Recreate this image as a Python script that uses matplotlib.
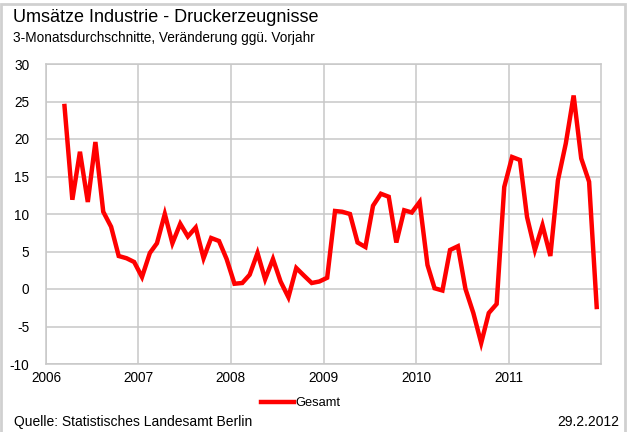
import matplotlib
matplotlib.use("Agg")
import matplotlib.pyplot as plt
import matplotlib.dates as mdates
import pandas as pd
from matplotlib.patches import Rectangle

plt.rcParams['font.family'] = ['Liberation Sans', 'DejaVu Sans']
plt.rcParams['axes.unicode_minus'] = False

# monthly values, March 2006 - December 2011
values = [24.4, 11.9, 18.3, 11.6, 19.6, 10.3, 8.3, 4.4, 4.1, 3.6, 1.6, 4.8,
          6.1, 10.0, 6.1, 8.7, 7.0, 8.2, 4.1, 6.8, 6.4, 4.0, 0.7, 0.8,
          1.9, 4.8, 1.3, 4.0, 1.0, -1.1, 2.8, 1.8, 0.8, 1.0, 1.5, 10.4,
          10.3, 10.0, 6.2, 5.6, 11.1, 12.7, 12.3, 6.2, 10.5, 10.2, 11.6, 3.2,
          0.1, -0.2, 5.2, 5.7, 0.0, -3.2, -7.2, -3.2, -2.0, 13.6, 17.6, 17.2,
          9.6, 5.2, 8.5, 4.4, 14.5, 19.4, 25.8, 17.4, 14.3, -2.4]
months = pd.date_range("2006-03-01", periods=len(values), freq="MS") + pd.Timedelta(days=14)
years = [2006, 2007, 2008, 2009, 2010, 2011]

title = "Umsätze Industrie - Druckerzeugnisse"
subtitle = "3-Monatsdurchschnitte, Veränderung ggü. Vorjahr"
source = "Quelle: Statistisches Landesamt Berlin"
stand = "29.2.2012"

fig = plt.figure(figsize=(6.28, 4.32), dpi=100)
ax = fig.add_axes([46 / 628, 1 - 364 / 432, 555 / 628, 300 / 432])

grid_col = "#c8c8c8"
ax.plot(months, values, color="#ff0000", lw=3.2, label="Gesamt", solid_joinstyle="miter")

ax.set_ylim(-10, 30)
ax.set_yticks(range(-10, 31, 5))
ax.set_xlim(pd.Timestamp("2006-01-01"), pd.Timestamp("2012-01-01"))
ax.set_xticks([pd.Timestamp(f"{y}-01-01") for y in years])
ax.xaxis.set_major_formatter(mdates.DateFormatter("%Y"))
ax.grid(True, color=grid_col, lw=1.1)
ax.set_axisbelow(True)
for s in ax.spines.values():
    s.set_color(grid_col)
    s.set_linewidth(1.1)
ax.tick_params(length=0, labelsize=9.8, colors="black")
ax.tick_params(axis="y", pad=12)
ax.tick_params(axis="x", pad=5)
for t in ax.yaxis.get_major_ticks():
    t.label1.set_va("center_baseline")

fig.legend(loc="center", bbox_to_anchor=(301 / 628, 1 - 403 / 432), frameon=False,
           fontsize=9.3, handlelength=2.5, handletextpad=0.15)

fig.text(13 / 628, 1 - 18 / 432, title, fontsize=13, va="center", ha="left")
fig.text(13 / 628, 1 - 38 / 432, subtitle, fontsize=9.8, va="center", ha="left")
fig.text(14 / 628, 1 - 422 / 432, source, fontsize=10, va="center", ha="left")
fig.text(619 / 628, 1 - 422 / 432, stand, fontsize=10, va="center", ha="right")

fig.patches.append(Rectangle((1 / 628, -0.05), 624 / 628, 1 - 4 / 432 + 0.05,
                             transform=fig.transFigure, fill=False,
                             edgecolor="#d0d0d0", lw=2))

fig.savefig("out.png", dpi=100)
